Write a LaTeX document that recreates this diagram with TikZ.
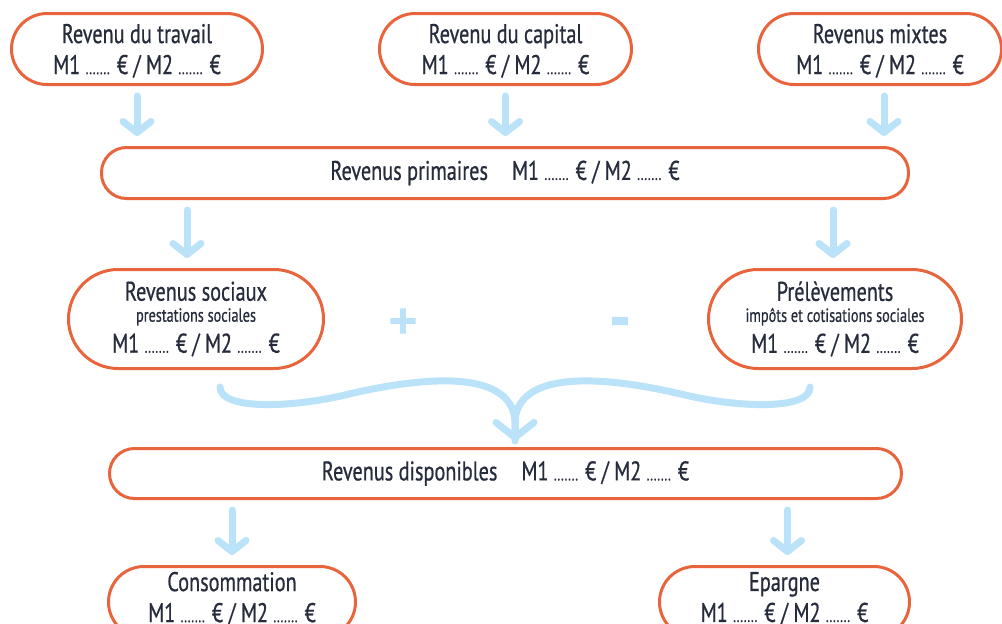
\documentclass[tikz,border=0pt]{standalone}
\usepackage{fontspec}
\setmainfont[FakeStretch=0.75,FakeBold=0.6]{PT Sans}
\newfontfamily\signfont[FakeBold=4]{DejaVu Sans Bold}
\usetikzlibrary{arrows.meta,calc}
\definecolor{org}{HTML}{E8643C}
\definecolor{blu}{HTML}{BAE2F8}
\definecolor{ink}{HTML}{262C3C}
\newcommand\dts{{\fontsize{17}{17}\selectfont.......}}
\tikzset{
  box/.style={draw=org, line width=3pt, fill=white, rounded corners=35.5pt,
    minimum height=71pt, text=ink, align=center,
    font=\fontsize{27}{31}\selectfont, inner sep=0pt},
  topbox/.style={box, text depth=0pt},
  widebox/.style={box, rounded corners=25pt, minimum height=50pt},
  tallbox/.style={box, rounded corners=49.5pt, minimum height=99pt},
  arr/.style={draw=blu, line width=7pt, line cap=round,
    -{Straight Barb[round,length=11pt,width=28pt]},
    shorten <=10pt, shorten >=10pt},
  curv/.style={draw=blu, line width=7pt, line cap=round},
  sign/.style={text=blu, font=\signfont\fontsize{38}{38}\selectfont, inner sep=0pt},
}
\begin{document}
\begin{tikzpicture}[x=1pt,y=-1pt]
\useasboundingbox (0,0) rectangle (1002,624);
% top row
\node[topbox, minimum width=251pt] (b1) at (137,49) {Revenu du travail\\M1 \dts{} € / M2 \dts{} €};
\node[topbox, minimum width=252pt] (b2) at (505.5,49) {Revenu du capital\\M1 \dts{} € / M2 \dts{} €};
\node[topbox, minimum width=243pt] (b3) at (880,49) {Revenus mixtes\\M1 \dts{} € / M2 \dts{} €};
% primary
\node[widebox, minimum width=807pt, minimum height=51pt] (prim) at (505,173)
  {Revenus primaires\hspace{24pt}M1 \dts{} € / M2 \dts{} €};
% social / levies
\node[tallbox, minimum width=255pt] (soc) at (196,319)
  {Revenus sociaux\\[-10pt]{\fontsize{19}{19}\selectfont prestations sociales}\\[0pt]M1 \dts{} € / M2 \dts{} €};
\node[tallbox, minimum width=253pt] (pre) at (835,319)
  {Prélèvements\\[-10pt]{\fontsize{19}{19}\selectfont impôts et cotisations sociales}\\[0pt]M1 \dts{} € / M2 \dts{} €};
\node[sign] (plus) at (403,321) {+};
\node[sign, font=\signfont\fontsize{46}{46}\selectfont] (minus) at (620,326) {-};
% disposable
\node[widebox, minimum width=792pt] (disp) at (505.5,473.5)
  {Revenus disponibles\hspace{24pt}M1 \dts{} € / M2 \dts{} €};
% bottom
\node[box, minimum width=247pt, text depth=10pt] (cons) at (232,602) {Consommation\\M1 \dts{} € / M2 \dts{} €};
\node[box, minimum width=250pt, text depth=10pt] (epa) at (784.5,602) {Epargne\\M1 \dts{} € / M2 \dts{} €};
% arrows
\draw[arr] (b1.south) -- (b1.south |- prim.north);
\draw[arr] (b2.south) -- (b2.south |- prim.north);
\draw[arr] ([xshift=4pt]b3.south) -- ([xshift=4pt]b3.south |- prim.north);
\draw[arr] ([xshift=-9pt]soc.north |- prim.south) -- ([xshift=-9pt]soc.north);
\draw[arr] ([xshift=-2pt]pre.north |- prim.south) -- ([xshift=-2pt]pre.north);
\draw[arr] (cons.north |- disp.south) -- (cons.north);
\draw[arr] ([xshift=3pt]epa.north |- disp.south) -- ([xshift=3pt]epa.north);
% merging curve
\coordinate (cl) at (220,387);
\coordinate (cr) at (810,387);
\coordinate (tip) at (515,441);
\draw[curv] (cr) .. controls (810,410) and (740,408) .. (685,395)
  .. controls (610,377) and (520,368) .. (515,420) -- (tip);
\draw[curv, -{Straight Barb[round,length=15pt,width=38pt]}] (cl) .. controls (220,410) and (290,408) .. (345,395)
  .. controls (420,377) and (510,368) .. (515,420) -- (tip);
\end{tikzpicture}
\end{document}
